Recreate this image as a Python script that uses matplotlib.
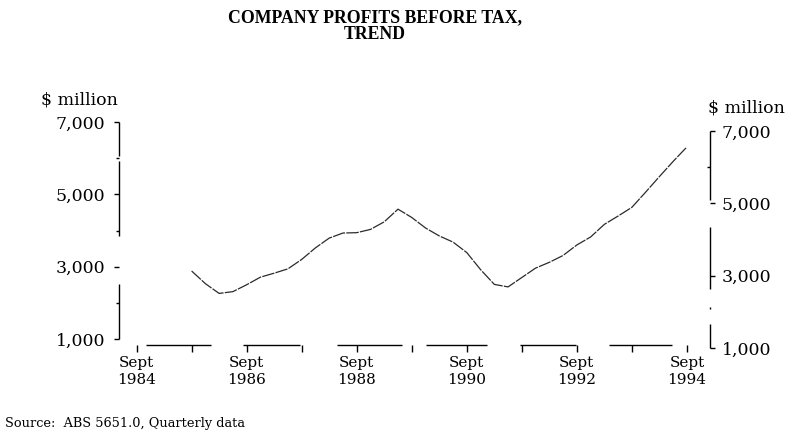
import numpy as np
import matplotlib
matplotlib.use('Agg')
import matplotlib.pyplot as plt
from matplotlib.ticker import FixedLocator, FuncFormatter

# Quarterly trend series, Sept quarter 1985 to Sept quarter 1994 ($ million)
first_quarter = 1985.75
profits = [2880, 2530, 2260, 2310, 2500, 2710, 2820, 2940, 3200, 3520,
           3790, 3930, 3940, 4030, 4240, 4590, 4360, 4070, 3850, 3680,
           3390, 2920, 2510, 2440, 2700, 2960, 3120, 3310, 3600, 3820,
           4170, 4400, 4640, 5060, 5490, 5910, 6310]
quarters = first_quarter + 0.25 * np.arange(len(profits))

label_years = [1984, 1986, 1988, 1990, 1992, 1994]
tick_years = list(range(1984, 1995))
y_ticks = [1000, 3000, 5000, 7000]
y_minor = [2000, 4000, 6000]

W, H, DPI = 795, 432, 100
px = 72 / DPI  # pixels -> points

plt.rcParams['font.family'] = ['DejaVu Serif']
plt.rcParams['font.size'] = 12.5

fig = plt.figure(figsize=(W / DPI, H / DPI), dpi=DPI)

# main axes: left scale and time axis
ax = fig.add_axes([119 / W, (H - 339) / H, (710 - 119) / W, (339 - 122) / H])
ax.plot(quarters, profits, color='#2b2b2b', lw=0.9, dashes=(10, 1))
ax.set_xlim(1984.43, 1995.17)
ax.set_ylim(1000, 7000)

for s in ['top', 'right']:
    ax.spines[s].set_visible(False)

ax.spines['left'].set_linewidth(1.0)
ax.spines['left'].set_linestyle((0, tuple(v * px for v in (55, 48, 75, 5, 35, 60))))
ax.spines['left'].set_capstyle('butt')

ax.spines['bottom'].set_position(('outward', 6 * px))
ax.spines['bottom'].set_bounds(1984.75, 1994.75)
ax.spines['bottom'].set_linewidth(1.0)
ax.spines['bottom'].set_linestyle(
    (0, tuple(v * px for v in (0, 9, 65, 32, 57, 37, 65, 24, 61, 33, 56, 33, 63, 100))))
ax.spines['bottom'].set_capstyle('butt')

ax.xaxis.set_major_locator(FixedLocator([y + 0.75 for y in label_years]))
ax.xaxis.set_minor_locator(FixedLocator([y + 0.75 for y in tick_years if y not in label_years]))
ax.set_xticklabels([f'Sept\n{y}' for y in label_years], fontsize=11, linespacing=1.25)
ax.tick_params(axis='x', which='both', direction='out', length=7 * px, width=1.0, pad=3)

ax.yaxis.set_major_locator(FixedLocator(y_ticks))
ax.yaxis.set_minor_locator(FixedLocator(y_minor))
ax.yaxis.set_major_formatter(FuncFormatter(lambda v, p: f'{v:,.0f}'))
ax.tick_params(axis='y', which='major', direction='out', length=5 * px, width=1.0, pad=9 * px)
ax.tick_params(axis='y', which='minor', direction='out', length=3 * px, width=1.0)

# right-hand scale, drawn on its own axes
ax2 = fig.add_axes([119 / W, (H - 348) / H, (710 - 119) / W, (348 - 131) / H])
ax2.patch.set_visible(False)
ax2.set_ylim(1000, 7000)
ax2.set_xticks([])
for s in ['top', 'left', 'bottom']:
    ax2.spines[s].set_visible(False)
ax2.spines['right'].set_linewidth(1.0)
ax2.spines['right'].set_linestyle((0, tuple(v * px for v in (24, 15, 2, 18, 62, 27, 72, 60))))
ax2.spines['right'].set_capstyle('butt')
ax2.yaxis.tick_right()
ax2.yaxis.set_major_locator(FixedLocator(y_ticks))
ax2.yaxis.set_minor_locator(FixedLocator([6000]))
ax2.yaxis.set_major_formatter(FuncFormatter(lambda v, p: f'{v:,.0f}'))
ax2.tick_params(axis='y', which='major', direction='out', length=5 * px, width=1.0, pad=7 * px)
ax2.tick_params(axis='y', which='minor', direction='in', length=3 * px, width=1.0)

fig.text(41 / W, 1 - 100 / H, '$ million', ha='left', va='center')
fig.text(708 / W, 1 - 108 / H, '$ million', ha='left', va='center')

fig.text(375 / W, 1 - 26 / H, 'COMPANY PROFITS BEFORE TAX,\nTREND',
         ha='center', va='center', fontweight='bold', fontsize=12.8, linespacing=1.0,
         family=['Liberation Serif', 'DejaVu Serif'])

fig.text(5 / W, 1 - 424 / H, 'Source:  ABS 5651.0, Quarterly data',
         ha='left', va='center', fontsize=9.3)

fig.savefig('out.png', dpi=DPI)
